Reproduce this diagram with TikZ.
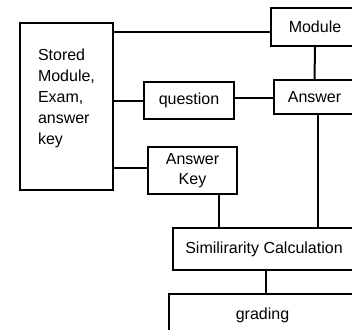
\documentclass[tikz,border=0pt]{standalone}
\usepackage{fontspec}
\setmainfont{Liberation Sans}
\usepackage{tikz}
\usetikzlibrary{calc}

\begin{document}
\begin{tikzpicture}[x=1pt,y=-1pt,line width=2pt,font=\fontsize{16pt}{20pt}\selectfont]
  \tikzstyle{block}=[draw=black,fill=white,rectangle,inner sep=0pt,align=center,anchor=north west]

  \useasboundingbox (0,0) rectangle (352,329);
  \clip (0,0) rectangle (352,329);

  \node[block,inner xsep=18pt,minimum height=167pt] (store) at (19,22)
        {\parbox[c][115pt][t]{57pt}{\fontsize{16pt}{21pt}\selectfont\raggedright Stored\\ Module,\\ Exam,\\ answer\\ key}};
  \node[block,minimum width=88pt,minimum height=38pt]  (module)   at (270,7)   {Module};
  \node[block,minimum width=81pt,minimum height=34pt]  (answer)   at (273,79)  {Answer};
  \node[block,minimum width=90pt,minimum height=37pt]  (question) at (143,81)  {question};
  \node[block,minimum width=89pt,minimum height=47pt]  (key)      at (147,146) {Answer\\ Key};
  \node[block,minimum width=182pt,minimum height=42pt] (sim)      at (172,227) {Similirarity Calculation};
  \node[block,minimum width=187pt,minimum height=42pt] (grading)  at (168,293) {grading};

  \draw ([yshift=-10pt]store.north east) -- ([yshift=-10pt]store.north east -| module.west);
  \draw (question.west) -- (question.west -| store.east);
  \draw ([yshift=3pt]question.east) -- ([yshift=3pt]question.east -| answer.west);
  \draw ([yshift=3pt]key.west) -- ([yshift=3pt]key.west -| store.east);
  \draw (module.south) -- (answer.north);
  \draw ([xshift=3pt]answer.south) -- ([xshift=3pt]answer.south |- sim.north);
  \draw ([xshift=-19pt]key.south east) -- ([xshift=-19pt]key.south east |- sim.north);
  \draw ([xshift=2pt]sim.south) -- ([xshift=2pt]sim.south |- grading.north);
\end{tikzpicture}
\end{document}
